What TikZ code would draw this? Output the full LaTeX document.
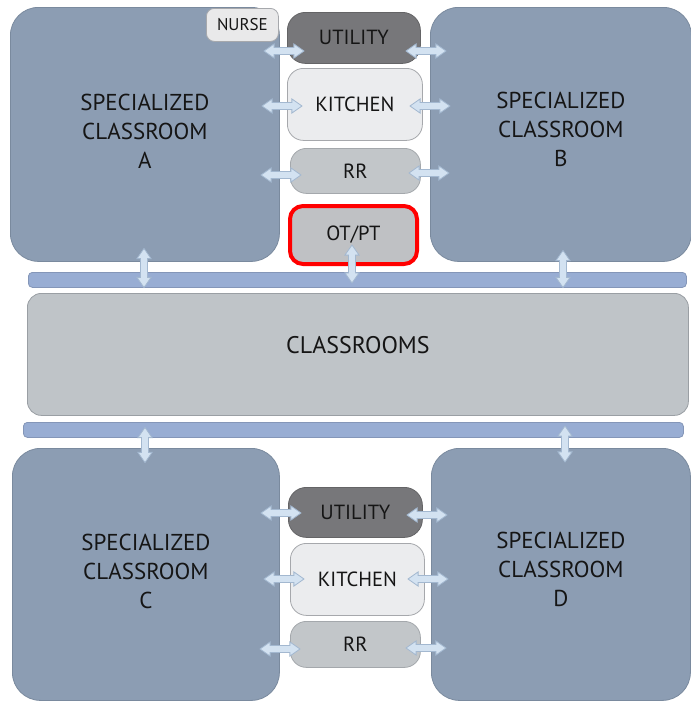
\documentclass[tikz,border=0pt]{standalone}
\usepackage{fontspec}
\setmainfont{PT Sans}
\usetikzlibrary{shapes.arrows}
\definecolor{roomfill}{HTML}{8C9DB3}
\definecolor{roomline}{HTML}{7A8A9E}
\definecolor{barfill}{HTML}{98ADD3}
\definecolor{barline}{HTML}{8496B8}
\definecolor{clsfill}{HTML}{BFC4C8}
\definecolor{clsline}{HTML}{9A9FA4}
\definecolor{utilfill}{HTML}{77777A}
\definecolor{utilline}{HTML}{646466}
\definecolor{kitfill}{HTML}{EBECEE}
\definecolor{kitline}{HTML}{A6A8AC}
\definecolor{rrfill}{HTML}{C2C6C9}
\definecolor{rrline}{HTML}{A4A8AC}
\definecolor{otfill}{HTML}{BFC1C4}
\definecolor{nursefill}{HTML}{E9E9EA}
\definecolor{arrfill}{HTML}{D3E2F1}
\definecolor{arrline}{HTML}{A3B8D0}
\definecolor{txt}{HTML}{151515}
\tikzset{
  box/.style={anchor=north west, inner sep=0pt, align=center, text=txt, line width=0.8pt},
  room/.style={box, draw=roomline, fill=roomfill, rounded corners=28pt},
  bigtext/.style={align=center, text=txt, font=\fontsize{23}{29}\selectfont},
  bar/.style={box, draw=barline, fill=barfill, rounded corners=4pt},
  small/.style={box, rounded corners=16pt, font=\fontsize{20.5}{24}\selectfont},
  dbl/.style={double arrow, draw=arrline, fill=arrfill, line width=0.8pt, inner sep=3.1pt,
    double arrow head extend=3.6pt, double arrow tip angle=70, minimum height=40pt},
}
\begin{document}
\begin{tikzpicture}[x=1pt,y=-1pt]
\useasboundingbox[fill=white] (0,0) rectangle (691,702);
% rooms
\node[room, minimum width=269pt, minimum height=254pt,
  label={[bigtext, yshift=3pt]center:SPECIALIZED\\CLASSROOM\\A}] (A) at (10,7) {};
\node[room, minimum width=261pt, minimum height=254pt,
  label={[bigtext, yshift=5pt]center:SPECIALIZED\\CLASSROOM\\B}] (B) at (430,7) {};
\node[room, minimum width=267pt, minimum height=252pt,
  label={[bigtext, yshift=3pt]center:SPECIALIZED\\CLASSROOM\\C}] (C) at (12,448) {};
\node[room, minimum width=259pt, minimum height=252pt,
  label={[bigtext, yshift=5pt]center:SPECIALIZED\\CLASSROOM\\D}] (D) at (431,448) {};
% top middle
\node[box, draw=kitline, fill=nursefill, rounded corners=8pt, minimum width=72pt, minimum height=33pt, font=\fontsize{17}{18}\selectfont] (nurse) at (206,8) {NURSE};
\node[small, draw=utilline, fill=utilfill, rounded corners=18pt, minimum width=133pt, minimum height=51pt] (util1) at (287,12) {UTILITY};
\node[small, draw=kitline, fill=kitfill, minimum width=135pt, minimum height=72pt] (kit1) at (287,68) {KITCHEN};
\node[small, draw=rrline, fill=rrfill, minimum width=130pt, minimum height=45pt] (rr1) at (290,148) {RR};
\node[small, draw=red, fill=otfill, line width=4pt, rounded corners=13pt, minimum width=127pt, minimum height=58pt] (ot) at (288,204) {OT/PT};
% bars and classrooms
\node[bar, minimum width=658pt, minimum height=15pt] (bar1) at (28,272) {};
\node[box, draw=clsline, fill=clsfill, rounded corners=14pt, minimum width=661pt, minimum height=122pt,
  label={[text=txt, font=\fontsize{24}{28}\selectfont, yshift=9pt]center:CLASSROOMS}] (cls) at (27,293) {};
\node[bar, minimum width=660pt, minimum height=15pt] (bar2) at (23,422) {};
% bottom middle
\node[small, draw=utilline, fill=utilfill, rounded corners=18pt, minimum width=134pt, minimum height=50pt] (util2) at (288,487) {UTILITY};
\node[small, draw=kitline, fill=kitfill, minimum width=134pt, minimum height=72pt] (kit2) at (290,543) {KITCHEN};
\node[small, draw=rrline, fill=rrfill, minimum width=130pt, minimum height=46pt] (rr2) at (290,621) {RR};
% horizontal arrows
\node[dbl] (a1) at (284,51) {};
\node[dbl] (a2) at (282,106) {};
\node[dbl] (a3) at (281,175) {};
\node[dbl] (a4) at (426,51) {};
\node[dbl] (a5) at (430,106) {};
\node[dbl] (a6) at (429,173) {};
\node[dbl] (a7) at (281,513) {};
\node[dbl] (a8) at (284,579) {};
\node[dbl] (a9) at (280,649) {};
\node[dbl] (a10) at (427,515) {};
\node[dbl] (a11) at (428,579) {};
\node[dbl] (a12) at (426,648) {};
% vertical arrows
\node[dbl, rotate=90, minimum height=39pt] (v1) at (144,268) {};
\node[dbl, rotate=90, minimum height=38pt] (v2) at (352,264) {};
\node[dbl, rotate=90, minimum height=37pt] (v3) at (563,269) {};
\node[dbl, rotate=90, minimum height=35pt] (v4) at (145,445) {};
\node[dbl, rotate=90, minimum height=36pt] (v5) at (565,444) {};
\end{tikzpicture}
\end{document}
